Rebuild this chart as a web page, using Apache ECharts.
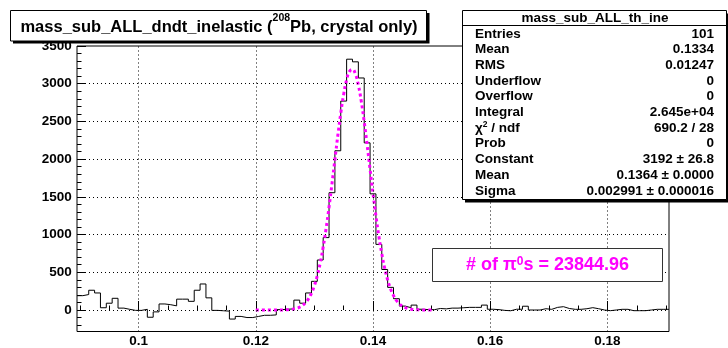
<!DOCTYPE html>
<html><head><meta charset="utf-8">
<script src="https://cdn.jsdelivr.net/npm/echarts@6/dist/echarts.min.js"></script>
<style>html,body{margin:0;padding:0;background:#fff}#c{width:728px;height:348px}</style>
</head><body><div id="c"></div>
<script>
// ---- histogram binning (ROOT TH1: 101 bins) ----
const histXmin = 0.0895;
const histBinWidth = 0.001;
const counts = [
  190, 205, 262, 226, 30, 90, 155, 25, 9, -5,
  -5, 9, -96, -25, 80, 70, 55, 144, 144, 115,
  262, 345, 161, -5, -10, -15, -120, -85, -100, -100,
  -85, -70, -70, -65, 5, 10, 15, 131, 90, 226,
  380, 663, 960, 1555, 2111, 2770, 3325, 3290, 3076, 2216,
  1540, 870, 537, 300, 150, 52, 30, 65, 10, 5,
  5, 20, 15, 25, 25, 30, 35, 35, 35, 65,
  10, 5, -5, -10, 10, 10, 50, 0, 0, 17,
  9, 35, 44, 20, 9, 9, 17, 31, 17, 0,
  -9, 0, 9, 9, -9, -9, -9, 0, 9, 9,
  9
];
// ---- gaussian fit curve ----
const fitXmin = 0.120;
const fitStep = 0.0005;
const fitValues = [
  0, 0, 0, 0.01, 0.03, 0.07, 0.14, 0.29, 0.59, 1.2,
  2.2, 4.2, 7.6, 13.3, 22.9, 38.1, 61.9, 97.5, 149.5, 223,
  323, 456, 626, 834, 1082, 1364, 1673, 1995, 2314, 2609,
  2861, 3051, 3164, 3190, 3128, 2983, 2767, 2495, 2188, 1866,
  1547, 1248, 978, 746, 553, 399, 280, 191, 126, 81.6,
  51.2, 31.2, 18.5, 10.7, 6.0, 3.3, 1.7, 0.9, 0.4, 0.2,
  0.1
];
// ---- axes ----
const xMin = 0.0895, xMax = 0.1905;
const yMin = -285, yMax = 3500;
const xMajorTicks = [0.1, 0.12, 0.14, 0.16, 0.18];
const xTickLabels = ['0.1', '0.12', '0.14', '0.16', '0.18'];
const yMajorTicks = [0, 500, 1000, 1500, 2000, 2500, 3000, 3500];
const xMinorStep = 0.005, yMinorStep = 100;
// ---- texts ----
const titleMain1 = 'mass_sub_ALL_dndt_inelastic (';
const titleSup = '208';
const titleMain2 = 'Pb, crystal only)';
const statsTitle = 'mass_sub_ALL_th_ine';
const statsLabels = ['Entries', 'Mean', 'RMS', 'Underflow', 'Overflow', 'Integral', '\u03c7', 'Prob', 'Constant', 'Mean', 'Sigma'];
const statsValues = ['101', '0.1334', '0.01247', '0', '0', '2.645e+04', '690.2 / 28', '0', '3192 \u00b1 26.8', '0.1364 \u00b1 0.0000', '0.002991 \u00b1 0.000016'];
const pi0Text1 = '# of \u03c0';
const pi0Sup = '0';
const pi0Text2 = 's = 23844.96';

// build
const histData = counts.map((v, i) => [histXmin + i * histBinWidth, v]);
histData.push([histXmin + counts.length * histBinWidth, counts[counts.length - 1]]);
const fitData = fitValues.map((v, i) => [fitXmin + i * fitStep, v]);
const xMinor = [];
for (let v = 0.09; v <= 0.19 + 1e-9; v += xMinorStep) xMinor.push(Math.round(v * 1000) / 1000);
const yMinor = [];
for (let v = -200; v <= 3400; v += yMinorStep) yMinor.push(v);

const FF = '"Liberation Sans", Arial, Helvetica, sans-serif';
function txt(t, x, y, size, opts) {
  opts = opts || {};
  return { type: 'text', z: 100, silent: true, style: {
    text: t, x: x, y: y, fontSize: size, fontWeight: opts.weight || 'bold', fontFamily: FF,
    fill: opts.fill || '#000', align: opts.align || 'left', verticalAlign: 'middle' } };
}
function richTxt(parts, x, y, mainSize, supSize, fill, mainLH, supLH) {
  const text = '{a|' + parts[0] + '}{s|' + parts[1] + '}{a|' + parts[2] + '}';
  return { type: 'text', z: 100, silent: true, style: {
    text: text, x: x, y: y, align: 'center', verticalAlign: 'middle', fill: fill,
    rich: {
      a: { fontSize: mainSize, fontWeight: 'bold', fontFamily: FF, fill: fill, lineHeight: mainLH, verticalAlign: 'middle' },
      s: { fontSize: supSize, fontWeight: 'bold', fontFamily: FF, fill: fill, lineHeight: supLH, verticalAlign: 'top' }
    } } };
}
function rect(x, y, w, h, fill, stroke, z) {
  return { type: 'rect', z: z == null ? 90 : z, silent: true, shape: { x: x, y: y, width: w, height: h },
    style: { fill: fill, stroke: stroke || null, lineWidth: 1 } };
}

const graphics = [];
// title pave
graphics.push(rect(13, 13, 416.5, 30.5, '#000', null, -2));
graphics.push(rect(10.5, 10.5, 416, 30.5, '#fff', '#000', -1));
graphics.push(richTxt([titleMain1, titleSup, titleMain2], 219, 27, 16.5, 10.5, '#000', 28, 5));
// stats box
graphics.push(rect(465, 13.5, 266, 189, '#000'));
graphics.push(rect(462.5, 10.5, 264, 189, '#fff', '#000'));
graphics.push({ type: 'line', z: 95, silent: true, shape: { x1: 462.5, y1: 25.5, x2: 726.5, y2: 25.5 }, style: { stroke: '#000', lineWidth: 1 } });
graphics.push(txt(statsTitle, 595, 18, 13.5, { align: 'center' }));
statsLabels.forEach((lab, i) => {
  const y = 33.8 + i * 15.7;
  if (lab === '\u03c7') {
    graphics.push({ type: 'text', z: 100, silent: true, style: {
      text: '{a|\u03c7}{s|2}{a| / ndf}', x: 475, y: y, align: 'left', verticalAlign: 'middle',
      rich: { a: { fontSize: 13.5, fontWeight: 'bold', fontFamily: FF, fill: '#000', lineHeight: 16, verticalAlign: 'middle' },
              s: { fontSize: 8.5, fontWeight: 'bold', fontFamily: FF, fill: '#000', lineHeight: 6, verticalAlign: 'top' } } } });
  } else {
    graphics.push(txt(lab, 475, y, 13.5));
  }
  graphics.push(txt(statsValues[i], 714, y, 13.5, { align: 'right' }));
});
// pi0 box
graphics.push(rect(432.5, 248.5, 230, 33, '#fff', '#333'));
graphics.push(richTxt([pi0Text1, pi0Sup, pi0Text2], 547.5, 265.5, 18, 12, '#ff00ff', 20, 14));

const chart = echarts.init(document.getElementById('c'), null, { renderer: 'canvas' });
const labelFont = { fontFamily: FF, fontWeight: 'bold', fontSize: 13.5, color: '#000' };
chart.setOption({
  animation: false,
  backgroundColor: '#fff',
  grid: { left: 77, right: 59, top: 46, bottom: 13, show: true, borderColor: '#000', borderWidth: 1, backgroundColor: 'transparent' },
  xAxis: [
    { type: 'value', min: xMin, max: xMax, position: 'bottom', axisLine: { show: false },
      splitLine: { show: false },
      axisTick: { show: true, inside: true, length: 9, customValues: xMajorTicks, lineStyle: { color: '#000', width: 1 } },
      axisLabel: { show: true, customValues: xMajorTicks, margin: 9.5, verticalAlign: 'middle', ...labelFont,
        formatter: v => { const k = xMajorTicks.findIndex(t => Math.abs(t - v) < 1e-9); return k >= 0 ? xTickLabels[k] : ''; } } },
    { type: 'value', min: xMin, max: xMax, position: 'bottom', offset: 0, axisLine: { show: false },
      splitLine: { show: false }, axisLabel: { show: false },
      axisTick: { show: true, inside: true, length: 4.5, customValues: xMinor, lineStyle: { color: '#000', width: 1 } } }
  ],
  yAxis: [
    { type: 'value', min: yMin, max: yMax, position: 'left', axisLine: { show: false },
      splitLine: { show: false },
      axisTick: { show: true, inside: true, length: 9, customValues: yMajorTicks, lineStyle: { color: '#000', width: 1 } },
      axisLabel: { show: true, customValues: yMajorTicks, margin: 5.3, ...labelFont, formatter: v => String(v) } },
    { type: 'value', min: yMin, max: yMax, position: 'left', offset: 0, axisLine: { show: false },
      splitLine: { show: false }, axisLabel: { show: false },
      axisTick: { show: true, inside: true, length: 4.5, customValues: yMinor, lineStyle: { color: '#000', width: 1 } } }
  ],
  series: [
    { type: 'line', name: 'hist', xAxisIndex: 0, yAxisIndex: 0, data: histData, step: 'end', symbol: 'none',
      lineStyle: { color: '#000', width: 1 }, z: 3, silent: true,
      markLine: { silent: true, symbol: 'none', label: { show: false }, animation: false,
        lineStyle: { color: '#000', type: [1, 3], width: 1 },
        emphasis: { disabled: true },
        data: [
          ...xMajorTicks.map(v => ({ xAxis: v })),
          ...yMajorTicks.filter(v => v < yMax).map(v => ({ yAxis: v }))
        ] } },
    { type: 'line', name: 'fit', xAxisIndex: 0, yAxisIndex: 0, data: fitData, smooth: true, symbol: 'none',
      lineStyle: { color: '#ff00ff', width: 3, type: [3, 3] }, z: 4, silent: true }
  ],
  graphic: graphics
});
</script></body></html>
